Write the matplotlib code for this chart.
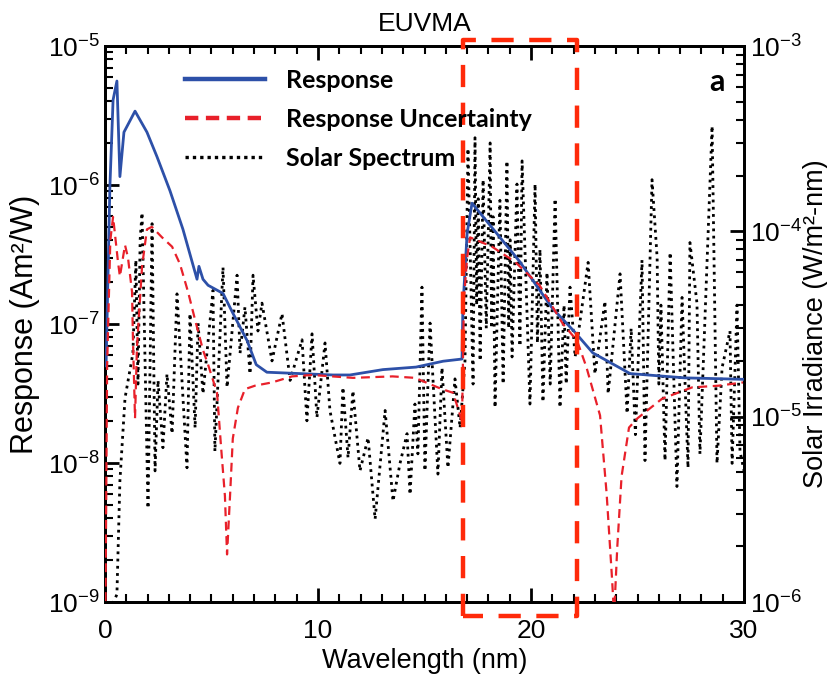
import matplotlib
matplotlib.use('Agg')
import matplotlib.pyplot as plt
from matplotlib.lines import Line2D
from matplotlib.ticker import LogLocator, MultipleLocator, NullFormatter
import matplotlib.transforms as mtransforms

plt.rcParams['font.family'] = ['Liberation Sans', 'DejaVu Sans']
plt.rcParams['mathtext.fontset'] = 'custom'
plt.rcParams['mathtext.rm'] = 'Liberation Sans'
plt.rcParams['mathtext.it'] = 'Liberation Sans:italic'

# response curve (Am^2/W)
resp_wl = [0.05, 0.23, 0.38, 0.56, 0.70, 0.89, 1.41, 1.97, 2.44, 3.05, 3.66, 4.32, 4.41, 4.60,
           4.84, 5.54, 6.00, 6.67, 7.10, 7.60, 9.15, 10.7, 11.5, 13.05, 14.6, 15.87, 16.76, 16.80,
           17.0, 17.23, 19.48, 19.7, 21.0, 22.07, 22.9, 24.65, 27.2, 30.0]
resp = [5e-8, 9.7e-7, 4.1e-6, 5.6e-6, 1.15e-6, 2.4e-6, 3.4e-6, 2.4e-6, 1.6e-6, 9.1e-7, 4.8e-7, 2.1e-7, 2.6e-7, 2.1e-7,
        1.9e-7, 1.66e-7, 1.2e-7, 7.6e-8, 5.1e-8, 4.5e-8, 4.4e-8, 4.3e-8, 4.3e-8, 4.7e-8, 4.9e-8, 5.4e-8, 5.6e-8, 1.3e-7,
        4.5e-7, 7.4e-7, 2.8e-7, 2.5e-7, 1.3e-7, 8.7e-8, 6.2e-8, 4.4e-8, 4.1e-8, 4.0e-8]

# response uncertainty (Am^2/W)
unc_wl = [0.02, 0.10, 0.25, 0.38, 0.61, 0.70, 0.94, 1.08, 1.27, 1.31, 1.41, 1.50, 1.74, 1.97, 2.20,
          2.68, 3.15, 3.52, 3.90, 4.23, 4.60, 4.84, 5.26, 5.45, 5.63, 5.73, 5.87, 6.00, 6.24, 6.57,
          7.04, 7.84, 8.78, 9.72, 11.64, 13.5, 14.55, 15.82, 16.34, 16.76, 16.85, 17.0, 17.14, 18.17,
          19.25, 20.4, 21.5, 22.16, 22.6, 23.24, 23.55, 23.8, 23.9, 24.05, 24.25, 24.6, 25.0, 26.15,
          27.56, 28.8, 29.95]
unc = [8e-10, 5e-8, 4e-7, 5.9e-7, 2.8e-7, 2.2e-7, 3.7e-7, 3.0e-7, 1.7e-7, 8.1e-8, 2.1e-8, 6.8e-8, 2.6e-7, 4.8e-7, 5.0e-7,
       4.2e-7, 3.6e-7, 2.7e-7, 1.7e-7, 1.07e-7, 6.5e-8, 5.1e-8, 3.2e-8, 1.3e-8, 5.8e-9, 2.2e-9, 5.8e-9, 1.5e-8, 2.5e-8, 3.4e-8,
       3.6e-8, 3.8e-8, 4.2e-8, 4.3e-8, 4.1e-8, 4.2e-8, 4.1e-8, 3.4e-8, 3.2e-8, 2.0e-8, 1.5e-7, 3.0e-7, 4.2e-7, 3.6e-7,
       2.8e-7, 1.9e-7, 1.0e-7, 7.6e-8, 4.9e-8, 2.2e-8, 6e-9, 1.5e-9, 8e-10, 2.5e-9, 8e-9, 1.8e-8, 2.1e-8, 2.9e-8,
       3.5e-8, 3.6e-8, 3.8e-8]

# solar spectrum (W/m^2-nm)
sol_wl = [0.23, 0.56, 0.70, 0.94, 1.31, 1.45, 1.55, 1.65, 1.74, 2.02, 2.21, 2.35, 2.49, 2.72, 2.91, 3.15,
          3.38, 3.85, 3.99, 4.23, 4.37, 4.60, 5.07, 5.16, 5.54, 5.73, 6.20, 6.34, 6.57, 6.81, 6.95, 7.18,
          7.37, 7.84, 8.31, 8.69, 9.25, 9.48, 9.72, 9.95, 10.33, 10.56, 11.03, 11.17, 11.41, 11.64, 11.97,
          12.35, 12.68, 13.15, 13.52, 13.85, 14.18, 14.32, 14.55, 14.69, 14.88, 15.02, 15.26, 15.63, 15.82,
          16.10, 16.43, 16.67, 16.90, 17.04, 17.28, 17.37, 17.45, 17.52, 17.61, 17.75, 17.90, 18.08, 18.15,
          18.22, 18.31, 18.54, 18.69, 18.87, 18.95, 19.02, 19.11, 19.34, 19.48, 19.58, 19.95, 20.19, 20.30,
          20.42, 20.56, 20.75, 20.90, 21.13, 21.36, 21.55, 21.65, 21.83, 22.07, 22.68, 23.00, 23.47, 23.62,
          24.18, 24.51, 24.70, 24.90, 25.21, 25.35, 25.68, 25.92, 26.00, 26.10, 26.29, 26.53, 26.85, 27.09,
          27.37, 27.46, 27.79, 27.93, 28.50, 28.73, 28.97, 29.34, 29.44, 29.67, 29.81, 30.0]
sol = [9e-7, 1.1e-6, 4.5e-6, 1.26e-5, 2.2e-5, 7e-5, 1.5e-5, 9e-5, 1.26e-4, 3.2e-6, 1.1e-4, 5.1e-6, 1.57e-5, 6.8e-6, 1.7e-5, 8.1e-6,
       4.6e-5, 5.3e-6, 3.6e-5, 8.7e-6, 3.2e-5, 1.33e-5, 4.8e-5, 6.5e-6, 6.4e-5, 1.44e-5, 5.8e-5, 2.2e-5, 3.9e-5, 1.7e-5, 5.8e-5, 2.9e-5,
       4.1e-5, 2.0e-5, 3.6e-5, 1.57e-5, 2.6e-5, 9.5e-6, 2.8e-5, 9.9e-6, 2.5e-5, 1.08e-5, 5.6e-6, 1.44e-5, 6.0e-6, 1.38e-5, 5.1e-6,
       7.7e-6, 2.8e-6, 1.08e-5, 3.5e-6, 5.6e-6, 8.1e-6, 3.8e-6, 1.17e-5, 6.3e-6, 5.0e-5, 5.1e-6, 3.2e-5, 4.9e-6, 1.84e-5,
       5.3e-6, 1.6e-5, 8.7e-6, 2.0e-5, 2.8e-4, 1.5e-5, 3.2e-4, 4e-5, 1.5e-4, 2.0e-5, 1.9e-4, 3.0e-5, 3.0e-4, 3e-5,
       1.2e-4, 1.12e-5, 1.47e-4, 1.5e-5, 2.4e-4, 3e-5, 9e-5, 2.1e-5, 1.8e-4, 2.4e-5, 2.4e-4, 1.17e-5, 1.8e-4, 2.5e-5,
       8e-5, 1.2e-5, 6e-5, 1.5e-5, 1.5e-4, 1.12e-5, 4e-5, 1.5e-5, 5.0e-5, 2.1e-5, 6.8e-5, 1.7e-5, 4.2e-5, 1.33e-5,
       5.9e-5, 1.04e-5, 3e-5, 8e-6, 7.0e-5, 5.8e-6, 1.9e-4, 7.2e-5, 1.5e-5, 4e-5, 5.8e-6, 7.7e-5, 4.2e-6, 4.4e-5,
       5.3e-6, 8.7e-5, 4.1e-5, 6.3e-6, 3.7e-4, 5.6e-6, 1.84e-5, 2.9e-5, 5.6e-6, 4.0e-5, 6.5e-6, 5.1e-6]

box_wl = [16.8, 22.15]  # highlighted band (nm)

blue = '#2d50a8'
red = '#e8202a'
boxred = '#ff2a0a'

fig = plt.figure(figsize=(8.28, 6.9), dpi=100)
ax = fig.add_axes([0.1268, 0.1275, 0.7718, 0.8058])
ax2 = ax.twinx()

ax.plot(resp_wl, resp, color=blue, lw=2.0, zorder=3)
ax.plot(unc_wl, unc, color=red, lw=1.6, linestyle=(0, (4, 2.5)), zorder=3)
ax2.plot(sol_wl, sol, color='black', lw=2.0, linestyle=(0, (1, 1.6)), zorder=2)

ax.set_yscale('log')
ax2.set_yscale('log')
ax.set_xlim(0, 30)
ax.set_ylim(1e-9, 1e-5)
ax2.set_ylim(1e-6, 1e-3)

# left axes on top so curves are drawn above spectrum
ax.set_zorder(ax2.get_zorder() + 1)
ax.patch.set_visible(False)

# dashed box around band
trans = mtransforms.blended_transform_factory(ax.transData, ax.transAxes)
ax.plot([box_wl[0], box_wl[0], box_wl[1], box_wl[1], box_wl[0]],
        [-0.025, 1.011, 1.011, -0.025, -0.025], transform=trans, color=boxred,
        lw=3.2, linestyle=(0, (5, 3.5)), clip_on=False, zorder=5)

for a in (ax, ax2):
    for s in a.spines.values():
        s.set_linewidth(2.0)

ax.xaxis.set_major_locator(MultipleLocator(10))
ax.xaxis.set_minor_locator(MultipleLocator(1))
ax.tick_params(axis='x', which='both', direction='in', top=True)
ax.tick_params(axis='x', which='major', pad=12)
ax.tick_params(axis='y', which='both', direction='in', right=False)
ax.tick_params(which='major', length=10, width=2, labelsize=19)
ax.tick_params(which='minor', length=6, width=1.5)
ax2.tick_params(which='both', direction='in')
ax2.tick_params(which='major', length=10, width=2, labelsize=19, pad=4)
ax2.tick_params(which='minor', length=6, width=1.5)
for a in (ax, ax2):
    a.yaxis.set_major_locator(LogLocator(base=10, numticks=10))
    a.yaxis.set_minor_locator(LogLocator(base=10, subs=range(2, 10), numticks=10))
    a.yaxis.set_minor_formatter(NullFormatter())

ax.set_xlabel('Wavelength (nm)', fontsize=19.5, labelpad=4)
ax.set_ylabel('Response (Am²/W)', fontsize=22, labelpad=6)
ax2.set_ylabel('Solar Irradiance (W/m²-nm)', fontsize=19.5, labelpad=1)
ax.set_title('EUVMA', fontsize=19, pad=11)

ax.text(0.957, 0.935, 'a', transform=ax.transAxes, fontsize=22, fontweight='bold',
        family=['Lato', 'DejaVu Sans'], ha='center', va='center')

handles = [Line2D([], [], color=blue, lw=3.2),
           Line2D([], [], color=red, lw=3.2, linestyle=(0, (3, 1.7))),
           Line2D([], [], color='black', lw=2.4, linestyle=(0, (1, 1.2)))]
labels = ['Response', 'Response Uncertainty', 'Solar Spectrum']
ax.legend(handles, labels, loc='upper left', bbox_to_anchor=(0.09, 1.0), frameon=False,
          prop={'family': ['Lato', 'DejaVu Sans'], 'weight': 'bold', 'size': 18},
          handlelength=3.2, handletextpad=0.85, labelspacing=0.65)

fig.savefig('out.png', dpi=100)
